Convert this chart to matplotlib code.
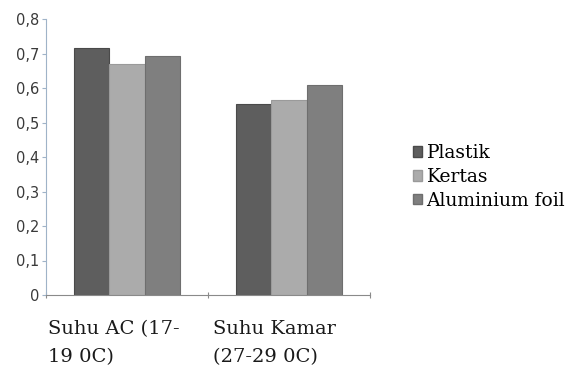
import matplotlib
matplotlib.use("Agg")
import matplotlib.pyplot as plt
from matplotlib.patches import Patch
import numpy as np

categories = ["Suhu AC (17-\n19 0C)", "Suhu Kamar\n(27-29 0C)"]
series_names = ["Plastik", "Kertas", "Aluminium foil"]
plastik = [0.717, 0.554]
kertas = [0.671, 0.565]
aluminium = [0.694, 0.608]
y_ticks = [0, 0.1, 0.2, 0.3, 0.4, 0.5, 0.6, 0.7, 0.8]
y_tick_labels = ["0", "0,1", "0,2", "0,3", "0,4", "0,5", "0,6", "0,7", "0,8"]

colors = ["#5e5e5e", "#ababab", "#7f7f7f"]
edges = ["#4a4a4a", "#9a9a9a", "#6e6e6e"]

fig = plt.figure(figsize=(5.79, 3.78), dpi=100)
ax = fig.add_axes([46 / 579, 1 - 295 / 378, 324 / 579, 276 / 378])

x = np.arange(len(categories))
w = 0.218
for i, vals in enumerate([plastik, kertas, aluminium]):
    ax.bar(x + (i - 1) * w, vals, width=w, color=colors[i],
           edgecolor=edges[i], linewidth=0.8, label=series_names[i])

ax.set_xlim(-0.5, len(categories) - 0.5)
ax.set_ylim(0, 0.8)

for s in ["top", "right"]:
    ax.spines[s].set_visible(False)
ax.spines["left"].set_color("#9fb3c8")
ax.spines["bottom"].set_color("#8a8a8a")

ax.set_yticks(y_ticks)
ax.set_yticklabels(y_tick_labels, fontsize=10.5, color="#3a3a3a",
                   family="DejaVu Sans")
ax.tick_params(axis="y", direction="out", length=3, color="#9fb3c8", pad=2)

ax.set_xticks(np.arange(-0.5, len(categories), 1.0))
ax.set_xticklabels([])
ax.tick_params(axis="x", direction="inout", length=5, color="#8a8a8a")

# category labels, left aligned beneath each group
label_x = [-0.49, 0.53]
for lx, cat in zip(label_x, categories):
    ax.text(lx, -0.09, cat, transform=ax.get_xaxis_transform(),
            ha="left", va="top", fontsize=14, family="DejaVu Serif",
            color="#1a1a1a", linespacing=1.7)

handles = [Patch(facecolor=colors[i], edgecolor=edges[i]) for i in range(3)]
leg = fig.legend(handles, series_names, loc="center left",
                 bbox_to_anchor=(405 / 579, 1 - 177 / 378), frameon=False,
                 prop={"family": "DejaVu Serif", "size": 13.5},
                 handlelength=0.5, handleheight=0.5, handletextpad=0.25,
                 labelspacing=0.3, borderaxespad=0)

fig.savefig("out.png", dpi=100, facecolor="white")
